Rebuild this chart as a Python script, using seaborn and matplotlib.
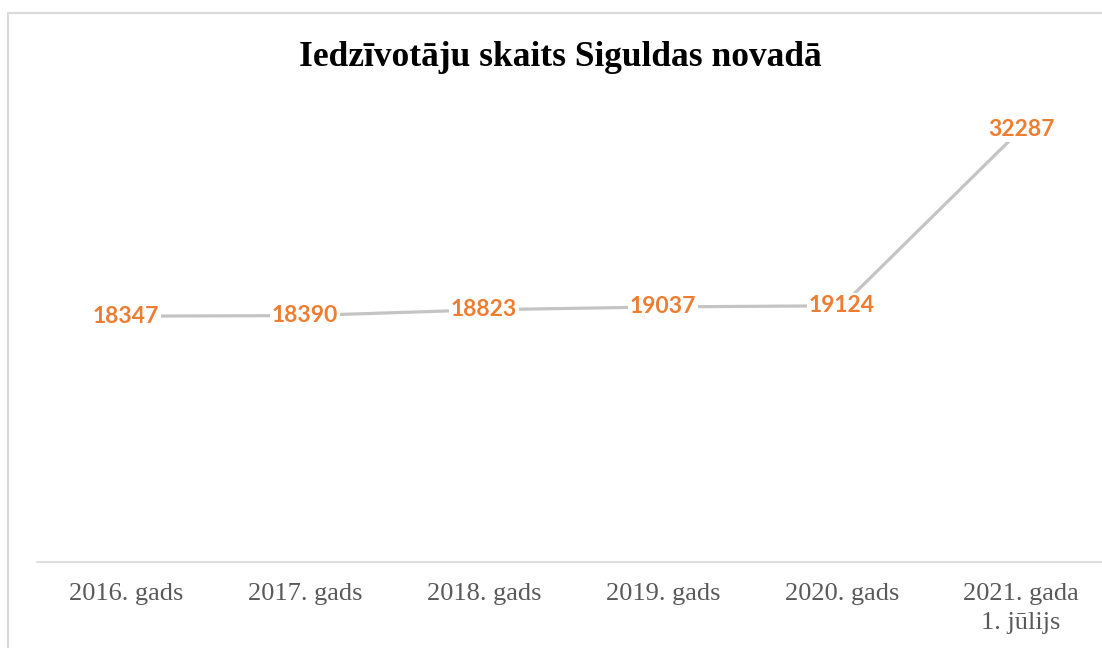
import matplotlib
matplotlib.use('Agg')
import matplotlib.pyplot as plt
from matplotlib.patches import Rectangle
import pandas as pd
import seaborn as sns

# data
years = ['2016. gads', '2017. gads', '2018. gads', '2019. gads', '2020. gads', '2021. gada\n1. jūlijs']
population = [18347, 18390, 18823, 19037, 19124, 32287]

title = 'Iedzīvotāju skaits Siguldas novadā'

df = pd.DataFrame({'year': years, 'population': population})

sns.set_style('white')

fig = plt.figure(figsize=(11.02, 6.48), dpi=100)
ax = fig.add_axes([36.5 / 1102, 86 / 648, 1074 / 1102, 469 / 648])

sns.lineplot(data=df, x='year', y='population', ax=ax, sort=False,
             color='#C4C4C4', linewidth=2.3)

# value labels, white box hides the line under the numbers
for i, v in enumerate(df['population']):
    ax.text(i, v, str(v), ha='center', va='center', color='#ED7D31',
            fontsize=16.5, fontweight='bold', family=['Lato', 'DejaVu Sans'],
            bbox=dict(boxstyle='square,pad=0.08', facecolor='white', edgecolor='none'))

ax.set_xlim(-0.5, len(years) - 0.5)
ax.set_ylim(0, 35000)
ax.set_xlabel('')
ax.set_ylabel('')
ax.set_yticks([])
ax.tick_params(axis='x', length=0, pad=15, labelsize=19, labelcolor='#595959')
for lab in ax.get_xticklabels():
    lab.set_family(['Liberation Serif', 'DejaVu Serif'])
    lab.set_linespacing(1.45)
for side in ['top', 'left', 'right']:
    ax.spines[side].set_visible(False)
ax.spines['bottom'].set_color('#D9D9D9')
ax.spines['bottom'].set_linewidth(1.2)

fig.text(560 / 1102, 1 - 57 / 648, title, ha='center', va='center', color='black',
         fontsize=25.5, fontweight='bold', family=['Liberation Serif', 'DejaVu Serif'])

# chart frame, cropped on the right and at the bottom like the reference
fig.patches.append(Rectangle((8 / 1102, -0.1), 1.2, 1.1 - 13 / 648,
                             transform=fig.transFigure, fill=False,
                             edgecolor='#D9D9D9', linewidth=1.5, zorder=0))

fig.savefig('out.png', dpi=100)
